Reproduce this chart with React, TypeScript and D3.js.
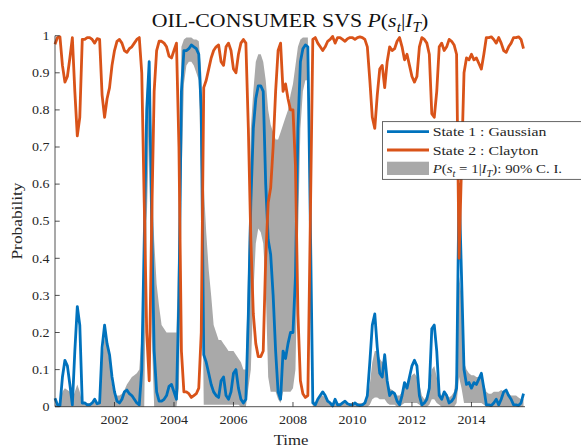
import React from "react";
import * as d3 from "d3";

// Monthly smoothed probabilities, Jan 2000 onward
const startYear = 2000;
const yearTicks = [2002, 2004, 2006, 2008, 2010, 2012, 2014];
const probTicks = [0, 0.1, 0.2, 0.3, 0.4, 0.5, 0.6, 0.7, 0.8, 0.9, 1];
const probTickLabels = ["0", "0.1", "0.2", "0.3", "0.4", "0.5", "0.6", "0.7", "0.8", "0.9", "1"];

// P(s_t = 1 | I_T): Gaussian state
const state1 = [
  // 2000
  0.023, 0.005, 0.003, 0.08, 0.125, 0.11, 0.06, 0.005, 0.15, 0.27, 0.22, 0.01,
  // 2001
  0.01, 0.005, 0.005, 0.01, 0.02, 0.008, 0.01, 0.16, 0.22, 0.17, 0.14, 0.08,
  // 2002
  0.04, 0.015, 0.01, 0.02, 0.04, 0.045, 0.035, 0.03, 0.02, 0.01, 0.005, 0.1,
  // 2003
  0.45, 0.8, 0.93, 0.5, 0.15, 0.04, 0.015, 0.015, 0.02, 0.03, 0.055, 0.06,
  // 2004
  0.04, 0.02, 0.3, 0.85, 0.96, 0.96, 0.965, 0.975, 0.97, 0.965, 0.95, 0.8,
  // 2005
  0.14, 0.12, 0.09, 0.06, 0.04, 0.03, 0.025, 0.07, 0.08, 0.03, 0.02, 0.04,
  // 2006
  0.09, 0.1, 0.05, 0.02, 0.01, 0.02, 0.25, 0.55, 0.75, 0.83, 0.865, 0.865,
  // 2007
  0.85, 0.6, 0.45, 0.41, 0.3, 0.15, 0.04, 0.02, 0.15, 0.13, 0.17, 0.2,
  // 2008
  0.2, 0.35, 0.75, 0.93, 0.965, 0.975, 0.97, 0.5, 0.01, 0.005, 0.02, 0.03,
  // 2009
  0.04, 0.03, 0.015, 0.01, 0.002, 0.02, 0.005, 0.005, 0.01, 0.015, 0.008, 0.005,
  // 2010
  0.005, 0.01, 0.005, 0.003, 0.005, 0.01, 0.03, 0.12, 0.22, 0.25, 0.16, 0.09,
  // 2011
  0.08, 0.14, 0.07, 0.03, 0.04, 0.035, 0.015, 0.005, 0.03, 0.065, 0.05, 0.08,
  // 2012
  0.11, 0.125, 0.11, 0.03, 0.005, 0.01, 0.02, 0.05, 0.21, 0.22, 0.15, 0.03,
  // 2013
  0.02, 0.04, 0.03, 0.01, 0.015, 0.025, 0.05, 0.6, 0.35, 0.1, 0.06, 0.065,
  // 2014
  0.05, 0.065, 0.06, 0.075, 0.09, 0.05, 0.005, 0.005, 0.003, 0.01, 0.02, 0.005,
  // 2015
  0.02, 0.04, 0.045, 0.03, 0.02, 0.005, 0.005, 0.003, 0.01, 0.035,
];

// 90% credible interval for P(s_t = 1 | I_T)
const ciLower = [
  0, 0, 0, 0, 0, 0, 0, 0, 0, 0, 0, 0,
  0, 0, 0, 0, 0, 0, 0, 0, 0, 0, 0, 0,
  0, 0, 0, 0, 0, 0, 0, 0, 0, 0, 0, 0,
  0, 0.5, 0.75, 0.2, 0, 0, 0, 0, 0, 0, 0, 0,
  0, 0, 0.05, 0.6, 0.87, 0.92, 0.93, 0.93, 0.92, 0.9, 0.88, 0.6,
  0.005, 0.005, 0.005, 0.005, 0.005, 0.005, 0.005, 0.005, 0.005, 0.005, 0.005, 0.005,
  0.005, 0.005, 0.005, 0, 0, 0, 0.05, 0.1, 0.3, 0.44, 0.48, 0.47,
  0.44, 0.32, 0.08, 0.04, 0.04, 0.04, 0.02, 0.01, 0.04, 0.04, 0.04, 0.04,
  0.05, 0.1, 0.45, 0.75, 0.85, 0.88, 0.88, 0.3, 0, 0, 0, 0,
  0, 0, 0, 0, 0, 0, 0, 0, 0, 0, 0, 0,
  0, 0, 0, 0, 0, 0, 0, 0.005, 0.02, 0.025, 0.025, 0.02,
  0.02, 0.02, 0.01, 0.005, 0.005, 0.005, 0, 0, 0.005, 0.01, 0.01, 0.01,
  0.01, 0.01, 0.01, 0.005, 0, 0, 0, 0.005, 0.02, 0.02, 0.01, 0.005,
  0, 0, 0, 0, 0, 0, 0.01, 0.08, 0.05, 0.01, 0.01, 0.01,
  0.01, 0.01, 0.01, 0.01, 0.01, 0.005, 0, 0, 0, 0, 0, 0,
  0, 0, 0, 0, 0, 0, 0, 0, 0, 0,
];

const ciUpper = [
  0.005, 0.005, 0.01, 0.04, 0.05, 0.045, 0.04, 0.02, 0.04, 0.06, 0.04, 0.01,
  0.01, 0.01, 0.01, 0.01, 0.015, 0.01, 0.02, 0.12, 0.19, 0.17, 0.12, 0.06,
  0.035, 0.03, 0.03, 0.035, 0.045, 0.06, 0.07, 0.08, 0.085, 0.09, 0.1, 0.2,
  0.5, 0.85, 0.94, 0.7, 0.45, 0.33, 0.27, 0.22, 0.21, 0.2, 0.2, 0.2,
  0.2, 0.2, 0.5, 0.97, 0.99, 0.995, 0.995, 0.995, 0.99, 0.99, 0.985, 0.9,
  0.6, 0.47, 0.37, 0.3, 0.22, 0.2, 0.18, 0.18, 0.17, 0.16, 0.15, 0.15,
  0.15, 0.14, 0.13, 0.12, 0.1, 0.1, 0.4, 0.75, 0.85, 0.93, 0.95, 0.95,
  0.93, 0.88, 0.8, 0.76, 0.74, 0.72, 0.72, 0.74, 0.76, 0.78, 0.8, 0.84,
  0.87, 0.92, 0.97, 0.99, 0.995, 0.995, 0.995, 0.6, 0.02, 0.01, 0.02, 0.03,
  0.03, 0.025, 0.015, 0.01, 0.01, 0.015, 0.01, 0.01, 0.01, 0.015, 0.01, 0.01,
  0.01, 0.01, 0.01, 0.01, 0.01, 0.01, 0.02, 0.06, 0.12, 0.15, 0.15, 0.13,
  0.12, 0.13, 0.07, 0.05, 0.045, 0.04, 0.03, 0.03, 0.04, 0.06, 0.06, 0.075,
  0.085, 0.09, 0.08, 0.06, 0.03, 0.02, 0.03, 0.05, 0.1, 0.11, 0.08, 0.04,
  0.03, 0.04, 0.035, 0.025, 0.03, 0.04, 0.1, 0.35, 0.3, 0.12, 0.1, 0.09,
  0.085, 0.085, 0.08, 0.08, 0.08, 0.06, 0.04, 0.035, 0.035, 0.04, 0.04, 0.04,
  0.045, 0.04, 0.04, 0.035, 0.03, 0.03, 0.03, 0.025, 0.02, 0.02,
];

// Two-state model: the Clayton state probability is the complement of the Gaussian one
const state2 = state1.map((p) => 1 - p);

const W = 581;
const H = 447;
const plot = { left: 55, right: 525, top: 35.7, bottom: 406.7 };
const SERIF = "'Liberation Serif', 'Times New Roman', serif";
const INK = "#262626";
const BLUE = "#0072BD";
const ORANGE = "#D95319";
const BAND = "#a9a9a9";
const SX = 1.17; // horizontal text stretch

const timeOf = (i: number) => startYear + i / 12;

// Renders  P(s_t <mid> | I_T) <tail>  with lowered subscripts
function CondProb({ size, mid, tail }: { size: number; mid: string; tail: string }) {
  const shift = size * 0.28;
  const sub = size * 0.7;
  return (
    <>
      <tspan fontStyle="italic">P</tspan>
      <tspan>(</tspan>
      <tspan fontStyle="italic">s</tspan>
      <tspan dy={shift} fontSize={sub} fontStyle="italic">t</tspan>
      <tspan dy={-shift}>{mid + "|"}</tspan>
      <tspan fontStyle="italic">I</tspan>
      <tspan dy={shift} fontSize={sub} fontStyle="italic">T</tspan>
      <tspan dy={-shift}>{")" + tail}</tspan>
    </>
  );
}

export default function App() {
  const x = d3.scaleLinear().domain([2000, 2015.8]).range([plot.left, plot.right]);
  const y = d3.scaleLinear().domain([0, 1]).range([plot.bottom, plot.top]);

  const line = d3
    .line<number>()
    .x((_, i) => x(timeOf(i)))
    .y((d) => y(d));
  const band = d3
    .area<number>()
    .x((_, i) => x(timeOf(i)))
    .y0((_, i) => y(ciLower[i]))
    .y1((d) => y(d));

  const tickLen = 4.7;
  const legend = { x: 382.5, y: 121.7, w: 215, h: 57.6 };

  return (
    <div style={{ position: "absolute", left: 0, top: 0 }}>
      <svg width={W} height={H} viewBox={`0 0 ${W} ${H}`} style={{ display: "block", background: "#fff" }}>
        <rect x={0} y={0} width={W} height={H} fill="#fff" />

        {/* credible band */}
        <path d={band(ciUpper) || ""} fill={BAND} stroke="none" />

        {/* state probabilities */}
        <path d={line(state1) || ""} fill="none" stroke={BLUE} strokeWidth={2.8} strokeLinejoin="round" />
        <path d={line(state2) || ""} fill="none" stroke={ORANGE} strokeWidth={2.8} strokeLinejoin="round" />

        {/* axes */}
        <g stroke={INK} strokeWidth={0.8} fill="none">
          <line x1={plot.left} x2={plot.left} y1={plot.top} y2={plot.bottom} />
          <line x1={plot.left} x2={plot.right} y1={plot.bottom} y2={plot.bottom} />
          {probTicks.map((v) => (
            <line key={`yt${v}`} x1={plot.left} x2={plot.left + tickLen} y1={y(v)} y2={y(v)} />
          ))}
          {yearTicks.map((v) => (
            <line key={`xt${v}`} x1={x(v)} x2={x(v)} y1={plot.bottom} y2={plot.bottom - tickLen} />
          ))}
        </g>

        <g fontFamily={SERIF} fontSize={12} fill={INK}>
          {probTicks.map((v, i) => (
            <text key={`yl${v}`} textAnchor="end" transform={`translate(49.5,${y(v) + 4.2}) scale(${SX},1)`}>
              {probTickLabels[i]}
            </text>
          ))}
          {yearTicks.map((v) => (
            <text key={`xl${v}`} textAnchor="middle" transform={`translate(${x(v)},424) scale(${SX},1)`}>
              {String(v)}
            </text>
          ))}
        </g>

        {/* axis titles */}
        <text
          fontFamily={SERIF}
          fontSize={15.5}
          fill={INK}
          textAnchor="middle"
          transform={`translate(291,444.5) scale(1.08,1)`}
        >
          Time
        </text>
        <text
          fontFamily={SERIF}
          fontSize={15.5}
          fill={INK}
          textAnchor="middle"
          transform={`translate(22,221) rotate(-90) scale(1.12,1)`}
        >
          Probability
        </text>

        {/* title */}
        <text
          fontFamily={SERIF}
          fontSize={19.5}
          fill="#111"
          textAnchor="middle"
          transform={`translate(290,26.5) scale(1.12,1)`}
        >
          <tspan>OIL-CONSUMER SVS </tspan>
          <CondProb size={19.5} mid="" tail="" />
        </text>

        {/* legend */}
        <g>
          <rect
            x={legend.x}
            y={legend.y}
            width={legend.w}
            height={legend.h}
            fill="#fff"
            stroke={INK}
            strokeWidth={0.7}
          />
          <line x1={387} x2={429} y1={131.7} y2={131.7} stroke={BLUE} strokeWidth={2.8} />
          <line x1={387} x2={429} y1={150} y2={150} stroke={ORANGE} strokeWidth={2.8} />
          <rect x={387} y={161.7} width={42} height={13.3} fill={BAND} />
          <g fontFamily={SERIF} fontSize={13.5} fill={INK}>
            <text transform={`translate(432.7,136) scale(${SX},1)`}>State 1 : Gaussian</text>
            <text transform={`translate(432.7,154.5) scale(${SX},1)`}>State 2 : Clayton</text>
            <text transform={`translate(432.7,173.3) scale(1.1,1)`}>
              <CondProb size={13.5} mid=" = 1" tail=": 90% C. I." />
            </text>
          </g>
        </g>
      </svg>
    </div>
  );
}
